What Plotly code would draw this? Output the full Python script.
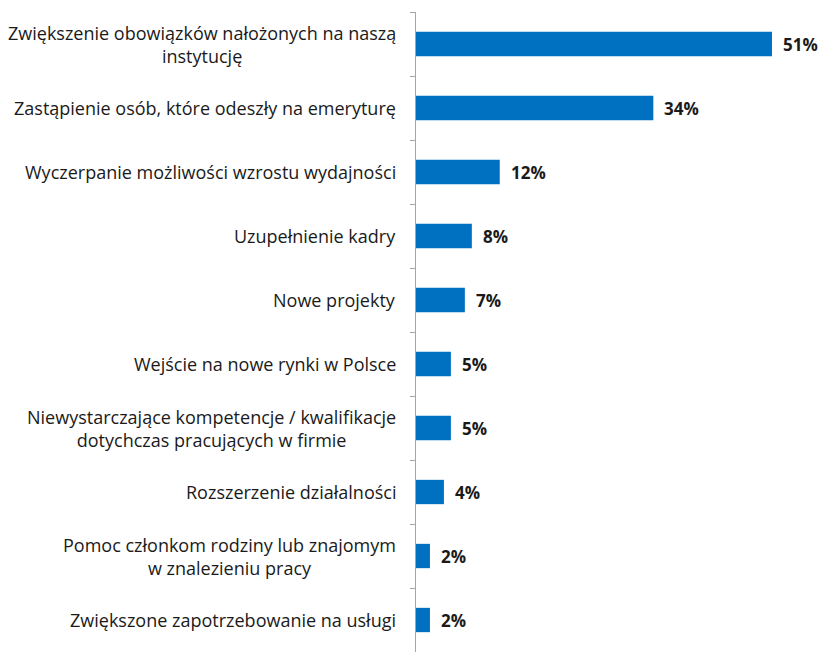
import plotly.graph_objects as go

categories = [
    "Zwiększenie obowiązków nałożonych na naszą<br>instytucję",
    "Zastąpienie osób, które odeszły na emeryturę",
    "Wyczerpanie możliwości wzrostu wydajności",
    "Uzupełnienie kadry",
    "Nowe projekty",
    "Wejście na nowe rynki w Polsce",
    "Niewystarczające kompetencje / kwalifikacje<br>dotychczas pracujących w firmie",
    "Rozszerzenie działalności",
    "Pomoc członkom rodziny lub znajomym<br>w znalezieniu pracy",
    "Zwiększone zapotrzebowanie na usługi",
]
values = [51, 34, 12, 8, 7, 5, 5, 4, 2, 2]
value_labels = ["51%", "34%", "12%", "8%", "7%", "5%", "5%", "4%", "2%", "2%"]

FONT = "Open Sans"
BLUE = "#0070C0"

ids = list(range(len(categories)))

fig = go.Figure(
    go.Bar(
        x=values,
        y=ids,
        orientation="h",
        marker=dict(color=BLUE, line=dict(width=0)),
        hoverinfo="skip",
    )
)

annotations = []
for i, (cat, v, lab) in enumerate(zip(categories, values, value_labels)):
    # category text, centred lines, right-aligned against the axis
    annotations.append(dict(
        xref="paper", yref="y", x=0, y=i, text=cat,
        xanchor="right", yanchor="middle", align="center",
        xshift=-18, showarrow=False,
        font=dict(family=FONT, size=18, color="#1a1a1a"),
    ))
    # value label at the end of each bar
    annotations.append(dict(
        xref="x", yref="y", x=v, y=i, text="<b>" + lab + "</b>",
        xanchor="left", yanchor="middle", xshift=9, showarrow=False,
        font=dict(family=FONT, size=17, color="#1a1a1a"),
    ))

fig.update_layout(
    width=822, height=653,
    margin=dict(l=416, r=0, t=12, b=1),
    paper_bgcolor="white", plot_bgcolor="white",
    showlegend=False,
    bargap=0.62,
    annotations=annotations,
    xaxis=dict(range=[0, 406 / 6.98], visible=False, fixedrange=True),
    yaxis=dict(
        range=[len(categories) - 0.5, -0.5],
        showticklabels=False,
        showgrid=False, zeroline=False,
        showline=True, linecolor="#A6A6A6", linewidth=1,
        ticks="outside", ticklen=5, tickcolor="#A6A6A6",
        tickmode="array",
        tickvals=[i - 0.5 for i in range(len(categories))],
        fixedrange=True,
    ),
)

fig.write_html("out.html")
